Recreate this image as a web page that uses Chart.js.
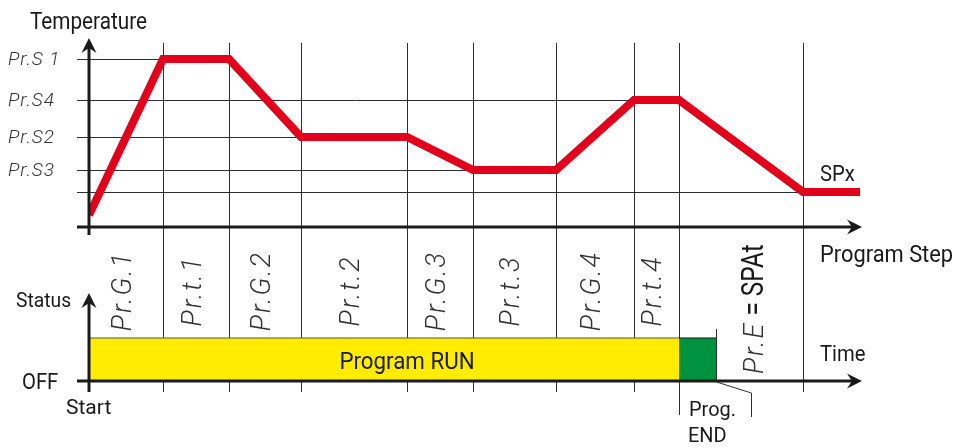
<!DOCTYPE html>
<html>
<head>
<meta charset="utf-8">
<script src="https://cdn.jsdelivr.net/npm/chart.js@4"></script>
<style>
  html, body { margin: 0; padding: 0; background: #fff; }
  canvas { display: block; }
</style>
</head>
<body>
<canvas id="myChart" width="953" height="448"></canvas>
<script>
// Program steps (time units along the step axis)
const stepNames = ["Pr.G.1", "Pr.t.1", "Pr.G.2", "Pr.t.2", "Pr.G.3", "Pr.t.3", "Pr.G.4", "Pr.t.4"];
const stepEnds = [74, 140, 212, 318, 384, 467, 545, 590];
const spatEnd = 714;

// Temperature profile
const profileTimes = [0, 74, 140, 212, 318, 384, 467, 545, 590, 714, 771];
const profileTemps = [12, 168, 168, 90, 90, 57, 57, 127, 127, 35, 35];

// Set point levels
const setpointNames = ["Pr.S 1", "Pr.S4", "Pr.S2", "Pr.S3"];
const setpointTemps = [168, 127, 90, 57];
const spxTemp = 35;

// Status lane: program running, then program end
const runSpan = [0, 590];
const endSpan = [590, 627];
const statusOn = 1;

const INK = "#1a1a1a";
const RED = "#e2001a";
const YELLOW = "#ffec00";
const GREEN = "#00923f";

function drawText(ctx, text, x, y, opts = {}) {
  const { font = "22px Roboto", align = "left", baseline = "alphabetic", squeeze = 0.92, rotate = 0, color = INK, spacing = "0px" } = opts;
  ctx.save();
  ctx.translate(x, y);
  if (rotate) ctx.rotate(rotate);
  ctx.scale(squeeze, 1);
  ctx.font = font;
  ctx.letterSpacing = spacing;
  ctx.fillStyle = color;
  ctx.textAlign = align;
  ctx.textBaseline = baseline;
  ctx.fillText(text, 0, 0);
  const w = ctx.measureText(text).width * squeeze;
  ctx.restore();
  return w;
}

function line(ctx, x1, y1, x2, y2) {
  ctx.beginPath();
  ctx.moveTo(x1, y1);
  ctx.lineTo(x2, y2);
  ctx.stroke();
}

function arrowHead(ctx, x, y, dir) {
  ctx.save();
  ctx.translate(x, y);
  if (dir === "up") ctx.rotate(-Math.PI / 2);
  ctx.beginPath();
  ctx.moveTo(0, 0);
  ctx.lineTo(-15, -7.5);
  ctx.lineTo(-10, 0);
  ctx.lineTo(-15, 7.5);
  ctx.closePath();
  ctx.fillStyle = INK;
  ctx.fill();
  ctx.restore();
}

const crisp = (v) => Math.round(v) + 0.5;

// сетка под данными
const gridPlugin = {
  id: "grid",
  beforeDatasetsDraw(chart) {
    const { ctx, scales: { x, y, y2 } } = chart;
    ctx.save();
    ctx.strokeStyle = "#2e2e2e";
    ctx.lineWidth = 1;

    [...setpointTemps, spxTemp].forEach((temp) => {
      const end = profileTimes[profileTemps.indexOf(temp)];
      const py = crisp(y.getPixelForValue(temp));
      line(ctx, x.left - 12, py, x.getPixelForValue(end), py);
    });

    const timeAxisY = y2.getPixelForValue(0);
    [...stepEnds, spatEnd].forEach((t) => {
      const px = crisp(x.getPixelForValue(t));
      const bottom = t === runSpan[1] ? timeAxisY + 34 : timeAxisY + 11;
      line(ctx, px, y.top, px, bottom);
    });
    ctx.restore();
  },

  // оси, стрелки и подписи поверх
  afterDatasetsDraw(chart) {
    const { ctx, scales: { x, y, y2 } } = chart;
    const x0 = x.getPixelForValue(0);
    const stepAxisY = y.getPixelForValue(0);
    const timeAxisY = y2.getPixelForValue(0);
    const right = x.right + 2;

    ctx.save();
    ctx.strokeStyle = INK;
    ctx.lineWidth = 3;
    line(ctx, x0, stepAxisY + 8, x0, y.top + 2);
    arrowHead(ctx, x0, y.top - 5, "up");
    line(ctx, x.left - 12, stepAxisY, right - 6, stepAxisY);
    arrowHead(ctx, right, stepAxisY, "right");

    const statusTop = y2.getPixelForValue(statusOn) - 45;
    line(ctx, x0, timeAxisY + 11, x0, statusTop + 8);
    arrowHead(ctx, x0, statusTop, "up");
    line(ctx, x.left - 12, timeAxisY, right - 6, timeAxisY);
    arrowHead(ctx, right, timeAxisY, "right");

    // Prog. END bracket
    ctx.lineWidth = 1;
    ctx.strokeStyle = "#2e2e2e";
    const pe = crisp(x.getPixelForValue(endSpan[1]));
    line(ctx, pe, y2.getPixelForValue(statusOn) - 9, pe, timeAxisY);
    ctx.beginPath();
    ctx.moveTo(pe, timeAxisY + 1);
    ctx.lineTo(pe + 35, timeAxisY + 12);
    ctx.lineTo(pe + 35, timeAxisY + 36);
    ctx.stroke();
    ctx.restore();

    // axis titles
    drawText(ctx, "Temperature", 30, 29, { font: "23px Roboto", squeeze: 0.9 });
    drawText(ctx, "Program Step", 820, 262, { font: "23px Roboto", squeeze: 0.95 });
    drawText(ctx, "SPx", 820, 181, { font: "22px Roboto" });
    drawText(ctx, "Status", 16, 307, { font: "21px Roboto" });
    drawText(ctx, "OFF", 22, 389, { font: "22px Roboto" });
    drawText(ctx, "Start", 66, 414, { font: "21px Roboto", squeeze: 1 });
    drawText(ctx, "Time", 820, 361, { font: "22px Roboto" });
    drawText(ctx, "Program RUN", x.getPixelForValue(318), 369, { font: "23px Roboto", align: "center", squeeze: 0.97 });
    drawText(ctx, "Prog.", 689, 416, { font: "21px Roboto", squeeze: 0.95 });
    drawText(ctx, "END", 688, 442, { font: "21px Roboto", squeeze: 0.95 });

    // set point names
    setpointNames.forEach((name, i) => {
      drawText(ctx, name, 8, y.getPixelForValue(setpointTemps[i]) + 1, {
        font: "italic 300 19px Roboto", baseline: "middle", squeeze: 1, color: "#333", spacing: "1px",
      });
    });

    // step names, rotated in their columns
    const midY = 291;
    stepNames.forEach((name, i) => {
      const start = i === 0 ? 0 : stepEnds[i - 1];
      const cx = x.getPixelForValue((start + stepEnds[i]) / 2) - 2;
      drawText(ctx, name, cx, midY, {
        font: "italic 300 27px Roboto", align: "center", baseline: "middle", squeeze: 1,
        rotate: -Math.PI / 2, color: "#333", spacing: "2px",
      });
    });

    // end-of-program parameter
    const bx = 763;
    const by = 374;
    const w = drawText(ctx, "Pr.E", bx, by, {
      font: "italic 300 27px Roboto", squeeze: 1, rotate: -Math.PI / 2, color: "#333", spacing: "2px",
    });
    ctx.save();
    ctx.translate(bx, by - w - 6);
    ctx.rotate(-Math.PI / 2);
    ctx.scale(0.76, 1);
    ctx.font = "32px Roboto";
    ctx.fillStyle = INK;
    ctx.fillText("= SPAt", 0, 0);
    ctx.restore();
  },
};

const ctx = document.getElementById("myChart");

new Chart(ctx, {
  type: "line",
  data: {
    datasets: [
      {
        label: "Temperature",
        data: profileTimes.map((t, i) => ({ x: t, y: profileTemps[i] })),
        borderColor: RED,
        borderWidth: 8,
        borderJoinStyle: "miter",
        borderCapStyle: "butt",
        pointRadius: 0,
        tension: 0,
        fill: false,
        yAxisID: "y",
      },
      {
        label: "Program RUN",
        data: runSpan.map((t) => ({ x: t, y: statusOn })),
        borderColor: "#555",
        borderWidth: 1,
        backgroundColor: YELLOW,
        pointRadius: 0,
        fill: "origin",
        yAxisID: "y2",
      },
      {
        label: "Prog. END",
        data: endSpan.map((t) => ({ x: t, y: statusOn })),
        borderColor: INK,
        borderWidth: 1,
        backgroundColor: GREEN,
        pointRadius: 0,
        fill: "origin",
        yAxisID: "y2",
      },
    ],
  },
  options: {
    responsive: false,
    animation: false,
    layout: { padding: { left: 89, right: 93, top: 43, bottom: 67 } },
    scales: {
      x: { type: "linear", min: 0, max: 771, display: false },
      y: { type: "linear", min: -154, max: 184, display: false },
      y2: { type: "linear", min: 0, max: 7.86, display: false },
    },
    plugins: {
      legend: { display: false },
      tooltip: { enabled: false },
    },
  },
  plugins: [gridPlugin],
});
</script>
</body>
</html>
